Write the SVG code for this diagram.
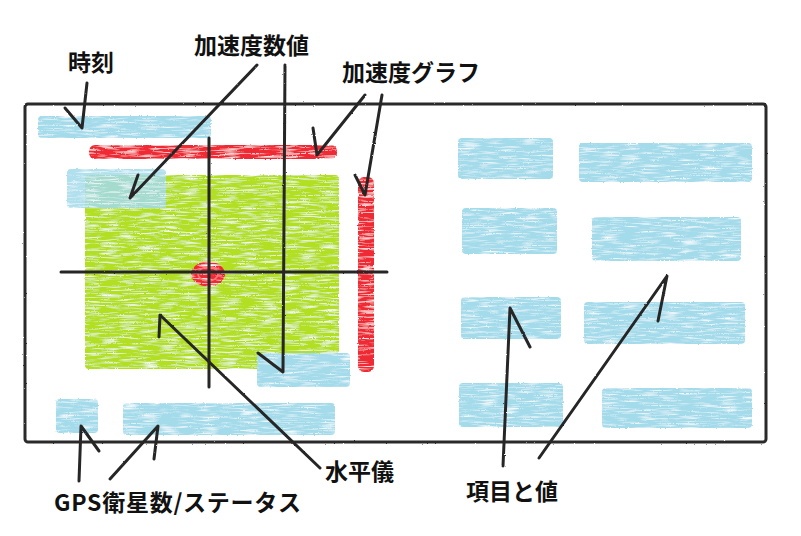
<svg xmlns="http://www.w3.org/2000/svg" width="801" height="536" viewBox="0 0 801 536">
<defs>
<filter id="crayon" filterUnits="userSpaceOnUse" x="0" y="0" width="801" height="536">
<feTurbulence type="fractalNoise" baseFrequency="0.05 0.6" numOctaves="2" seed="4" result="n"/>
<feColorMatrix in="n" type="matrix" values="0 0 0 0 1  0 0 0 0 1  0 0 0 0 1  0 0 0 -2.4 1.25" result="w"/>
<feComposite in="w" in2="SourceGraphic" operator="atop" result="tex"/>
<feTurbulence type="fractalNoise" baseFrequency="0.6" numOctaves="1" seed="2" result="e"/>
<feDisplacementMap in="tex" in2="e" scale="2.5" xChannelSelector="R" yChannelSelector="G"/>
</filter>
<filter id="pencil" filterUnits="userSpaceOnUse" x="0" y="0" width="801" height="536">
<feTurbulence type="fractalNoise" baseFrequency="0.9" numOctaves="1" seed="7" result="e"/>
<feDisplacementMap in="SourceGraphic" in2="e" scale="2" xChannelSelector="R" yChannelSelector="G"/>
</filter>
</defs>
<style>
.blue{fill:#a3dbeb;filter:url(#crayon)}
.green{fill:#b3df22;filter:url(#crayon)}
.red{fill:#ef2c36;filter:url(#crayon)}
.ln{fill:none;stroke:#262626;stroke-width:3;stroke-linecap:round;stroke-linejoin:round;filter:url(#pencil)}
.frame{fill:none;stroke:#2a2a2a;stroke-width:3;filter:url(#pencil)}
.lbl{font-family:"Noto Sans CJK JP","Noto Sans",sans-serif;font-weight:bold;font-size:23px;fill:#111}
</style>
<rect width="801" height="536" fill="#ffffff"/>
<g id="screen">
<rect class="frame" x="25" y="104" width="741" height="338" rx="3"/>
</g>
<g id="time-box"><rect class="blue" x="38" y="116" width="173" height="22" rx="4"/></g>
<g id="accel-graph-h"><rect class="red" x="89" y="145" width="248" height="14" rx="6"/></g>
<g id="level-area"><rect class="green" x="85" y="175" width="254" height="194" rx="4"/></g>
<g id="accel-value-1"><rect class="blue" x="67" y="169" width="99" height="39" rx="4" opacity="0.85"/></g>
<g id="accel-value-2"><rect class="blue" x="257" y="353" width="93" height="34" rx="4"/></g>
<g id="accel-graph-v"><rect class="red" x="358" y="177" width="16" height="195" rx="6"/></g>
<g id="level-cross">
<ellipse class="red" cx="208" cy="274" rx="17" ry="12.5"/>
<ellipse cx="208" cy="274" rx="10" ry="7" fill="none" stroke="#f8787c" stroke-width="1.5"/>
<path class="ln" d="M61,272 L387,272"/>
<path class="ln" d="M209,138 L209,387"/>
</g>
<g id="gps-count"><rect class="blue" x="56" y="399" width="42" height="34" rx="4"/></g>
<g id="gps-status"><rect class="blue" x="123" y="403" width="212" height="32" rx="4"/></g>
<g id="item-1"><rect class="blue" x="458" y="138" width="95" height="41" rx="4"/></g>
<g id="value-1"><rect class="blue" x="579" y="143" width="173" height="39" rx="4"/></g>
<g id="item-2"><rect class="blue" x="462" y="208" width="95" height="46" rx="4"/></g>
<g id="value-2"><rect class="blue" x="592" y="217" width="149" height="44" rx="4"/></g>
<g id="item-3"><rect class="blue" x="461" y="297" width="100" height="42" rx="4"/></g>
<g id="value-3"><rect class="blue" x="584" y="302" width="161" height="42" rx="4"/></g>
<g id="item-4"><rect class="blue" x="459" y="383" width="104" height="44" rx="4"/></g>
<g id="value-4"><rect class="blue" x="602" y="388" width="150" height="40" rx="4"/></g>
<g id="connectors">
<path class="ln" d="M87,83 L82,128 L65,108"/>
<path class="ln" d="M257,65 L130,198 L138,175"/>
<path class="ln" d="M285,65 L283,372 L258,353"/>
<path class="ln" d="M365,95 L317,155 L313,128"/>
<path class="ln" d="M382,95 L365,195 L355,175"/>
<path class="ln" d="M320,468 L160,315 L159,337"/>
<path class="ln" d="M79,481 L81,426 L99,451"/>
<path class="ln" d="M110,479 L158,426 L154,459"/>
<path class="ln" d="M503,466 L510,308 L530,347"/>
<path class="ln" d="M539,458 L667,276 L658,321"/>
</g>
<g id="label-time"><text class="lbl" x="68" y="71">時刻</text></g>
<g id="label-accel-value"><text class="lbl" x="194" y="54">加速度数値</text></g>
<g id="label-accel-graph"><text class="lbl" x="342" y="81">加速度グラフ</text></g>
<g id="label-level"><text class="lbl" x="325" y="480">水平儀</text></g>
<g id="label-item-value"><text class="lbl" x="466" y="500">項目と値</text></g>
<g id="label-gps"><text class="lbl" x="54" y="511" textLength="247" lengthAdjust="spacing">GPS衛星数/ステータス</text></g>
</svg>
